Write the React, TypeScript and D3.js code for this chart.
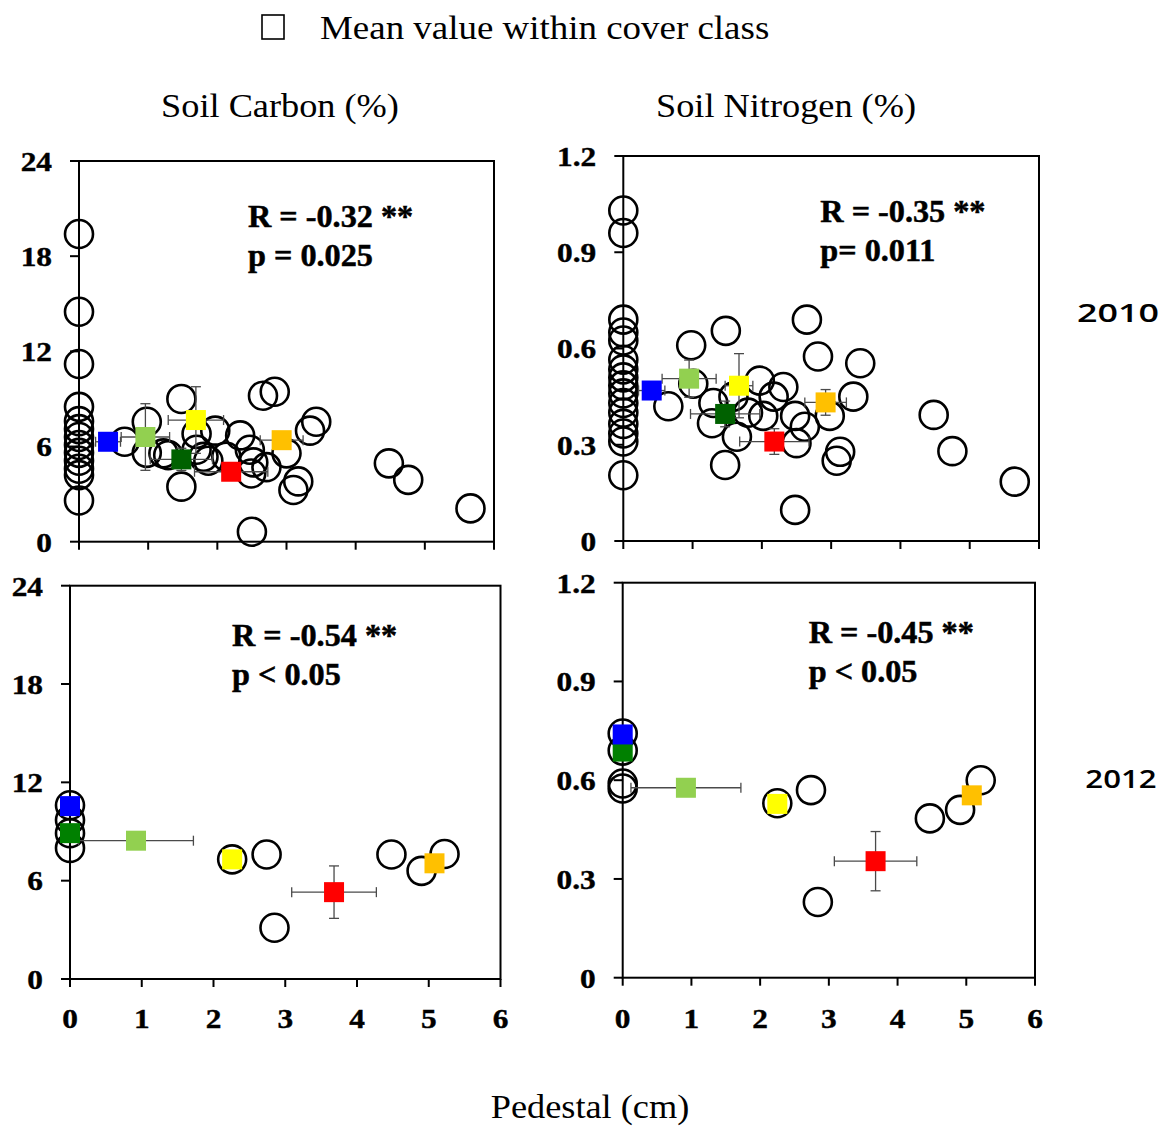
import React from "react";
import * as d3 from "d3";

// ---------- data ----------
const xTicks = [0, 1, 2, 3, 4, 5, 6];
const carbonTicks = [0, 6, 12, 18, 24];
const nitrogenTicks = [0, 0.3, 0.6, 0.9, 1.2];
const nitrogenTickLabels = ["0", "0.3", "0.6", "0.9", "1.2"];

// individual plots: [pedestal cm, value]
const obsCarbon2010: [number, number][] = [
  [0, 19.4], [0, 14.5], [0, 11.2], [0, 8.5], [0, 7.6], [0, 7.1], [0, 6.6], [0, 6.1],
  [0, 5.6], [0, 5.1], [0, 4.6], [0, 4.2], [0, 2.6],
  [0.66, 6.3], [0.98, 7.56], [0.98, 5.6], [1.48, 9.0], [1.29, 5.46], [1.22, 5.57],
  [1.48, 3.47], [1.7, 6.8], [1.7, 5.8], [1.97, 7.0], [1.8, 5.35], [1.87, 5.1],
  [2.13, 5.36], [2.33, 6.7], [2.47, 5.8], [2.49, 4.3], [2.52, 5.0], [2.66, 9.2],
  [2.83, 9.45], [3.0, 5.57], [2.71, 4.7], [3.1, 3.26], [3.17, 3.8], [3.34, 7.0],
  [3.43, 7.56], [4.48, 4.94], [4.76, 3.9], [5.66, 2.1], [2.5, 0.63],
];
const obsNitrogen2010: [number, number][] = [
  [0, 1.03], [0, 0.96], [0, 0.69], [0, 0.65], [0, 0.625], [0, 0.565], [0, 0.535],
  [0, 0.51], [0, 0.485], [0, 0.46], [0, 0.43], [0, 0.4], [0, 0.365], [0, 0.335],
  [0, 0.31], [0, 0.205],
  [0.98, 0.61], [1.01, 0.49], [0.65, 0.42], [1.48, 0.655], [1.3, 0.43], [1.28, 0.367],
  [1.47, 0.237], [1.64, 0.325], [1.59, 0.45], [1.97, 0.5], [2.31, 0.48], [2.17, 0.45],
  [2.02, 0.39], [1.8, 0.4], [2.65, 0.69], [2.81, 0.575], [3.42, 0.554], [3.32, 0.45],
  [2.98, 0.39], [2.48, 0.39], [2.5, 0.305], [2.62, 0.356], [3.13, 0.278], [3.08, 0.25],
  [2.48, 0.097], [4.48, 0.393], [4.75, 0.28], [5.65, 0.185],
];
const obsCarbon2012: [number, number][] = [
  [0, 10.6], [0, 9.7], [0, 8.9], [0, 8.0], [2.26, 7.3], [2.74, 7.6], [2.85, 3.13],
  [4.48, 7.6], [4.9, 6.6], [5.22, 7.63],
];
const obsNitrogen2012: [number, number][] = [
  [0, 0.742], [0, 0.69], [0, 0.59], [0, 0.575], [2.25, 0.53], [2.74, 0.57], [2.84, 0.23],
  [4.47, 0.484], [4.91, 0.51], [5.21, 0.6],
];

// cover-class means, order: dark green, light green, yellow, red, orange, blue
const classColors2010 = ["#006100", "#92D050", "#FFFF00", "#FF0000", "#FFC000", "#0000FF"];
const classColors2012 = ["#008000", "#92D050", "#FFFF00", "#FF0000", "#FFC000", "#0000FF"];

const meanCarbon2010X = [1.48, 0.96, 1.69, 2.2, 2.93, 0.42];
const meanCarbon2010Y = [5.19, 6.6, 7.67, 4.41, 6.4, 6.3];
const meanCarbon2010XErr = [0.45, 0.35, 0.4, 0.53, 0.31, 0.18];
const meanCarbon2010YErr = [0.7, 2.1, 2.1, 0.5, 0.3, 0];

const meanNitrogen2010X = [1.47, 0.95, 1.67, 2.18, 2.92, 0.41];
const meanNitrogen2010Y = [0.396, 0.506, 0.484, 0.31, 0.432, 0.469];
const meanNitrogen2010XErr = [0.5, 0.39, 0.2, 0.5, 0.3, 0.19];
const meanNitrogen2010YErr = [0.04, 0.058, 0.1, 0.04, 0.04, 0];

const meanCarbon2012X = [0, 0.92, 2.26, 3.68, 5.08, 0];
const meanCarbon2012Y = [8.9, 8.44, 7.3, 5.3, 7.06, 10.55];
const meanCarbon2012XErr = [0, 0.8, 0, 0.59, 0, 0];
const meanCarbon2012YErr = [0, 0, 0, 1.6, 0, 0];

const meanNitrogen2012X = [0, 0.92, 2.25, 3.68, 5.08, 0];
const meanNitrogen2012Y = [0.687, 0.577, 0.528, 0.354, 0.554, 0.739];
const meanNitrogen2012XErr = [0, 0.8, 0, 0.6, 0, 0];
const meanNitrogen2012YErr = [0, 0, 0, 0.09, 0, 0];

const stats = [
  ["R = -0.32 **", "p = 0.025"],
  ["R = -0.35 **", "p= 0.011"],
  ["R = -0.54 **", "p < 0.05"],
  ["R = -0.45 **", "p < 0.05"],
];

// ---------- layout ----------
const SERIF = "'Liberation Serif','Times New Roman',serif";
const SANS = "'Open Sans',Lato,sans-serif";

const panels = [
  { left: 79, right: 494, top: 161, bottom: 541.7, yMax: 24, ticks: carbonTicks, labels: carbonTicks.map(String),
    obs: obsCarbon2010, mx: meanCarbon2010X, my: meanCarbon2010Y, mxe: meanCarbon2010XErr, mye: meanCarbon2010YErr,
    colors: classColors2010, showX: false, stat: stats[0], annDx: 169, annDy: 66 },
  { left: 623.3, right: 1039, top: 156, bottom: 541, yMax: 1.2, ticks: nitrogenTicks, labels: nitrogenTickLabels,
    obs: obsNitrogen2010, mx: meanNitrogen2010X, my: meanNitrogen2010Y, mxe: meanNitrogen2010XErr, mye: meanNitrogen2010YErr,
    colors: classColors2010, showX: false, stat: stats[1], annDx: 197, annDy: 66 },
  { left: 70, right: 500.5, top: 585.7, bottom: 979, yMax: 24, ticks: carbonTicks, labels: carbonTicks.map(String),
    obs: obsCarbon2012, mx: meanCarbon2012X, my: meanCarbon2012Y, mxe: meanCarbon2012XErr, mye: meanCarbon2012YErr,
    colors: classColors2012, showX: true, stat: stats[2], annDx: 162, annDy: 60 },
  { left: 622.7, right: 1035, top: 582.7, bottom: 977.7, yMax: 1.2, ticks: nitrogenTicks, labels: nitrogenTickLabels,
    obs: obsNitrogen2012, mx: meanNitrogen2012X, my: meanNitrogen2012Y, mxe: meanNitrogen2012XErr, mye: meanNitrogen2012YErr,
    colors: classColors2012, showX: true, stat: stats[3], annDx: 186, annDy: 60 },
];

function SText(props: any) {
  const { x, y, sx = 1, anchor = "start", size, weight = "normal", family = SERIF, dy, children, thick = 0 } = props;
  return (
    <text
      transform={`translate(${x},${y}) scale(${sx},1)`}
      textAnchor={anchor}
      fontSize={size}
      fontWeight={weight}
      fontFamily={family}
      dy={dy}
      fill="#000"
      stroke={thick > 0 ? "#000" : "none"}
      strokeWidth={thick}
    >
      {children}
    </text>
  );
}

function Panel({ p }: { p: any }) {
  const x = d3.scaleLinear().domain([0, 6]).range([p.left, p.right]);
  const y = d3.scaleLinear().domain([0, p.yMax]).range([p.bottom, p.top]);
  const cap = 5;
  const sq = 20;
  const errColor = "#4a4a4a";
  return (
    <g>
      <rect x={p.left} y={p.top} width={p.right - p.left} height={p.bottom - p.top} fill="none" stroke="#000" strokeWidth={2} />
      {p.ticks.map((t: number, i: number) => (
        <g key={"yt" + i}>
          <line x1={p.left - 9} x2={p.left} y1={y(t)} y2={y(t)} stroke="#000" strokeWidth={2} />
          <SText x={p.left - 27} y={y(t)} dy="0.35em" anchor="end" size={28} weight="bold" sx={1.12} thick={0.4}>
            {p.labels[i]}
          </SText>
        </g>
      ))}
      {xTicks.map((t) => (
        <g key={"xt" + t}>
          <line x1={x(t)} x2={x(t)} y1={p.bottom} y2={p.bottom + 8} stroke="#000" strokeWidth={2} />
          {p.showX && (
            <SText x={x(t)} y={1028} anchor="middle" size={28} weight="bold" sx={1.12} thick={0.4}>
              {String(t)}
            </SText>
          )}
        </g>
      ))}
      {p.obs.map((d: [number, number], i: number) => (
        <circle key={"o" + i} cx={x(d[0])} cy={y(d[1])} r={14} fill="none" stroke="#000" strokeWidth={2.6} />
      ))}
      {p.mx.map((mx: number, i: number) => {
        const cx = x(mx);
        const cy = y(p.my[i]);
        const xe = p.mxe[i];
        const ye = p.mye[i];
        return (
          <g key={"e" + i} stroke={errColor} strokeWidth={1.3}>
            {xe > 0 && (
              <>
                <line x1={x(mx - xe)} x2={x(mx + xe)} y1={cy} y2={cy} />
                <line x1={x(mx - xe)} x2={x(mx - xe)} y1={cy - cap} y2={cy + cap} />
                <line x1={x(mx + xe)} x2={x(mx + xe)} y1={cy - cap} y2={cy + cap} />
              </>
            )}
            {ye > 0 && (
              <>
                <line x1={cx} x2={cx} y1={y(p.my[i] - ye)} y2={y(p.my[i] + ye)} />
                <line x1={cx - cap} x2={cx + cap} y1={y(p.my[i] - ye)} y2={y(p.my[i] - ye)} />
                <line x1={cx - cap} x2={cx + cap} y1={y(p.my[i] + ye)} y2={y(p.my[i] + ye)} />
              </>
            )}
          </g>
        );
      })}
      {p.mx.map((mx: number, i: number) => (
        <rect key={"m" + i} x={x(mx) - sq / 2} y={y(p.my[i]) - sq / 2} width={sq} height={sq} fill={p.colors[i]} />
      ))}
      <SText x={p.left + p.annDx} y={p.top + p.annDy} size={31} weight="bold" sx={1.04} thick={0.5}>
        {p.stat[0]}
      </SText>
      <SText x={p.left + p.annDx} y={p.top + p.annDy + 39} size={31} weight="bold" sx={1.04} thick={0.5}>
        {p.stat[1]}
      </SText>
    </g>
  );
}

export default function App() {
  return (
    <svg
      width={1167}
      height={1129}
      style={{ position: "absolute", left: 0, top: 0, background: "#fff" }}
    >
      <rect x={0} y={0} width={1167} height={1129} fill="#fff" />
      {/* legend */}
      <rect x={262} y={15} width={22} height={24} fill="none" stroke="#000" strokeWidth={1.6} />
      <SText x={320} y={39} size={33} sx={1.12}>Mean value within cover class</SText>
      {/* titles */}
      <SText x={280} y={117} anchor="middle" size={33} sx={1.1}>Soil Carbon (%)</SText>
      <SText x={786} y={117} anchor="middle" size={33} sx={1.1}>Soil Nitrogen (%)</SText>
      {panels.map((p, i) => (
        <Panel key={i} p={p} />
      ))}
      <SText x={1118} y={322} anchor="middle" size={26} weight={600} family={SANS} sx={1.38}>2010</SText>
      <SText x={1121} y={788} anchor="middle" size={26} weight={600} family={SANS} sx={1.2}>2012</SText>
      <SText x={590} y={1118} anchor="middle" size={33} sx={1.1}>Pedestal  (cm)</SText>
    </svg>
  );
}
